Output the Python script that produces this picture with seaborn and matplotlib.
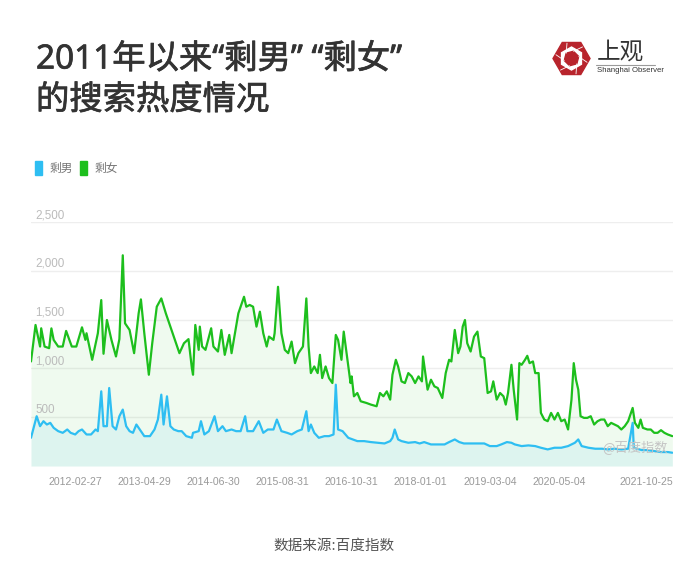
import numpy as np
import pandas as pd
import matplotlib
matplotlib.use('Agg')
import matplotlib.pyplot as plt
import matplotlib.patheffects as pe
from matplotlib.patches import Rectangle, RegularPolygon
import seaborn as sns

# ---------------- data (weeks since 2011-05-30, index value) ----------------
START = '2011-05-30'
END_WEEKS = 566.6

male_label = '剩男'
female_label = '剩女'

male_weeks = [0, 5, 8, 11, 14, 17, 20, 24, 28, 32, 35, 39, 42, 45, 49, 53, 57, 59, 62, 64,
              67, 69, 72, 75, 78, 81, 84, 87, 90, 93, 96, 100, 105, 109, 112, 115, 117, 120, 123, 126,
              130, 133, 137, 142, 143,
              148, 150, 153, 157, 162, 165, 169, 172, 177, 181, 185, 189, 191, 196, 201, 205, 209, 214, 217, 221,
              226, 230, 235, 239, 243, 245, 247, 250, 254, 259, 263, 267, 269, 271, 275, 280,
              284, 288, 294, 300, 306, 312, 317, 319, 321, 324, 327, 333, 339, 343, 347, 353, 359, 365, 369, 374,
              378, 382, 388, 394, 400, 405, 411, 415, 420, 424,
              427, 433, 439, 445, 450, 456, 462, 468, 474, 480, 483, 486, 492, 498, 504, 509, 515, 521, 527, 531,
              532, 539, 544, 550, 556, 562, 566]
male_values = [289, 510, 408, 459, 425, 442, 391, 357, 340, 374, 340, 323, 357, 374, 323, 323, 374, 357, 765, 408,
               408, 799, 408, 374, 510, 578, 408, 357, 340, 425, 374, 306, 306, 374, 476, 731, 425, 714, 408, 374,
               357, 357, 306, 289, 340,
               357, 459, 323, 357, 510, 357, 408, 357, 374, 357, 357, 510, 357, 357, 459, 340, 374, 374, 476, 357,
               340, 323, 357, 374, 561, 357, 425, 340, 289, 306, 306, 323, 833, 374, 357, 289,
               272, 255, 255, 245, 238, 231, 255, 289, 374, 272, 255, 238, 245, 231, 245, 221, 221, 221, 245, 272,
               245, 231, 231, 231, 231, 204, 204, 221, 245, 238,
               221, 204, 211, 204, 187, 170, 187, 187, 204, 238, 272, 204, 187, 177, 177, 170, 177, 170, 177, 442,
               187, 163, 163, 153, 143, 143, 136]

female_weeks = [0, 4, 8, 9, 12, 16, 18, 20, 24, 28, 31, 36, 40, 45, 48, 49, 54, 59, 62, 64,
                67, 71, 75, 78, 81, 83, 87, 91, 95, 97, 100, 104, 107, 111, 115, 119, 123, 127, 131, 135,
                139, 142, 143,
                145, 148, 149, 151, 154, 159, 161, 165, 168, 171, 175, 177, 180, 183, 185, 188, 190, 193, 196, 199,
                202, 205, 208, 210, 214, 215, 218, 221, 224, 227, 230, 233, 236, 240, 243, 245, 247, 250, 253, 255,
                257, 260, 263, 266, 269, 271, 274, 276, 280, 282,
                283, 285, 288, 291, 296, 300, 305, 308, 311, 314, 317, 319, 322, 324, 327, 330, 333, 336, 339, 342,
                345, 346, 350, 353, 356, 359, 363, 366, 369, 371, 374, 377, 379, 381, 383, 385, 388, 391, 394, 397,
                400, 403, 406, 408, 411, 414, 417, 419, 421, 424,
                426, 429, 431, 433, 436, 438, 440, 443, 445, 448, 450, 453, 456, 459, 462, 465, 468, 471, 474, 477,
                479, 481, 483, 485, 488, 491, 494, 497, 500, 503, 506, 509, 512, 515, 518, 521, 524, 527, 531, 533,
                536, 538, 540, 544, 547, 550, 553, 556, 559, 562, 566]
female_values = [1071, 1445, 1224, 1411, 1224, 1207, 1410, 1292, 1224, 1224, 1384, 1224, 1224, 1421, 1292, 1360, 1088, 1360, 1700, 1150,
                 1496, 1292, 1122, 1300, 2159, 1462, 1394, 1156, 1564, 1707, 1360, 935, 1258, 1632, 1717, 1564, 1428, 1292, 1156, 1258,
                 1300, 1000, 935,
                 1445, 1190, 1428, 1224, 1190, 1411, 1224, 1173, 1394, 1139, 1343, 1156, 1360, 1564, 1632, 1734, 1632, 1650, 1632, 1428,
                 1581, 1360, 1224, 1326, 1292, 1360, 1836, 1360, 1190, 1156, 1275, 1054, 1156, 1224, 1717, 1224, 952, 1020, 952, 1139,
                 901, 1020, 901, 850, 1343, 1292, 1088, 1377, 1020, 850,
                 918, 714, 748, 663, 646, 629, 612, 748, 714, 765, 680, 935, 1088, 1020, 867, 850, 952, 918, 850, 918,
                 867, 1122, 782, 884, 816, 799, 697, 952, 1088, 1071, 1394, 1156, 1224, 1428, 1496, 1258, 1173, 1326, 1377, 1122,
                 1105, 748, 765, 867, 680, 748, 714, 629, 748, 1037,
                 782, 476, 1054, 1037, 1088, 1129, 1054, 1071, 952, 952, 544, 476, 459, 544, 476, 544, 459, 476, 374, 680,
                 1054, 884, 782, 510, 493, 493, 510, 425, 459, 476, 476, 408, 442, 425, 408, 374, 408, 459, 595, 442,
                 391, 476, 391, 374, 374, 340, 340, 367, 340, 323, 306]

tick_dates = ['2012-02-27', '2013-04-29', '2014-06-30', '2015-08-31', '2016-10-31',
              '2018-01-01', '2019-03-04', '2020-05-04', '2021-10-25']
y_ticks = [500, 1000, 1500, 2000, 2500]

title_line1 = '2011年以来“剩男” “剩女”'
title_line2 = '的搜索热度情况'
source_text = '数据来源:百度指数'
watermark_text = '@百度指数'

# ---------------- styling ----------------
sns.set_theme(style='white')
plt.rcParams['font.family'] = ['Noto Sans CJK SC', 'DejaVu Sans']
TITLE_FAMILY = ['Noto Sans', 'Noto Sans CJK SC']
LATIN = ['Liberation Sans', 'DejaVu Sans']

BLUE = '#2EBEF2'
GREEN = '#1DBF1D'
TITLE_COLOR = '#333333'
W, H = 700, 588

start = pd.Timestamp(START)
df_m = pd.DataFrame({'date': start + pd.to_timedelta(np.array(male_weeks) * 7, unit='D'),
                     'value': male_values})
df_f = pd.DataFrame({'date': start + pd.to_timedelta(np.array(female_weeks) * 7, unit='D'),
                     'value': female_values})

fig = plt.figure(figsize=(W / 100, H / 100), dpi=100)
fig.patch.set_facecolor('white')
ax = fig.add_axes([31 / W, 1 - 466 / H, (673 - 31) / W, (466 - 222) / H])
ax.set_facecolor('none')

for v in y_ticks:
    ax.axhline(v, color='#EEEEEE', lw=1, zorder=0)

ax.fill_between(df_f['date'], df_f['value'], 0, color=GREEN, alpha=0.07, lw=0, zorder=1)
ax.fill_between(df_m['date'], df_m['value'], 0, color=BLUE, alpha=0.09, lw=0, zorder=1)
sns.lineplot(data=df_m, x='date', y='value', color=BLUE, lw=1.6, ax=ax, zorder=3)
sns.lineplot(data=df_f, x='date', y='value', color=GREEN, lw=1.6, ax=ax, zorder=4)

ax.set_xlim(start, start + pd.Timedelta(days=END_WEEKS * 7))
ax.set_ylim(0, 2500)
ax.set_xlabel('')
ax.set_ylabel('')
ax.set_yticks([])
for s in ax.spines.values():
    s.set_visible(False)

ax.set_xticks(pd.to_datetime(tick_dates))
ax.set_xticklabels(tick_dates, family=LATIN, fontsize=7.6, color='#999999')
ax.tick_params(axis='x', length=0, pad=8)

for v in y_ticks:
    ax.annotate(f'{v:,}', xy=(0, v), xycoords=('axes fraction', 'data'),
                xytext=(4, 1), textcoords='offset pixels', ha='left', va='bottom',
                fontsize=8.4, color='#BBBBBB', family=LATIN)

ax.text(0.992, 0.075, watermark_text, transform=ax.transAxes, ha='right', va='center',
        fontsize=9.5, color='#C4C4C4', zorder=5)

# ---------------- overlay (pixel coordinates) ----------------
ov = fig.add_axes([0, 0, 1, 1], zorder=-1)
ov.set_xlim(0, W)
ov.set_ylim(H, 0)
ov.axis('off')

# title (regular weight thickened slightly to look like a medium weight)
thick = [pe.withStroke(linewidth=0.5, foreground=TITLE_COLOR)]
fig.text(36 / W, 1 - 68.5 / H, title_line1, fontsize=24, family=TITLE_FAMILY,
         color=TITLE_COLOR, va='baseline', ha='left', path_effects=thick)
fig.text(36 / W, 1 - 109.5 / H, title_line2, fontsize=24, family=TITLE_FAMILY,
         color=TITLE_COLOR, va='baseline', ha='left', path_effects=thick)

# legend
ov.add_patch(Rectangle((35, 161), 7, 14, color=BLUE))
ov.text(50, 168.5, male_label, fontsize=8.5, color='#777777', va='center', ha='left')
ov.add_patch(Rectangle((80, 161), 7, 14, color=GREEN))
ov.text(95, 168.5, female_label, fontsize=8.5, color='#777777', va='center', ha='left')

# logo
RED = '#B8242C'
cx, cy = 571.5, 58.5
ov.add_patch(RegularPolygon((cx, cy), 6, radius=18.5, orientation=np.pi / 6, color=RED))
ov.add_patch(RegularPolygon((cx, cy), 6, radius=11.5, orientation=0, color='white'))
ov.add_patch(RegularPolygon((cx, cy), 6, radius=7.5, orientation=np.pi / 12, color=RED))
for k in range(6):
    a = np.pi / 12 + k * np.pi / 3 + np.pi / 2
    x0, y0 = cx + 7.5 * np.cos(a), cy + 7.5 * np.sin(a)
    x1, y1 = cx + 16 * np.cos(a + 0.5), cy + 16 * np.sin(a + 0.5)
    ov.plot([x0, x1], [y0, y1], color='white', lw=0.6)
ov.text(597, 52, '上观', fontsize=17, color='#333333', va='center', ha='left')
ov.plot([596, 655], [64.5, 64.5], color='#9A9A9A', lw=0.8)
ov.text(597, 71, 'Shanghai Observer', fontsize=5.6, color='#333333', va='center', ha='left',
        family=LATIN)

# source
fig.text(334 / W, 1 - 546 / H, source_text, fontsize=10.5, color='#555555', ha='center', va='center')

fig.savefig('out.png', dpi=100, facecolor='white')
